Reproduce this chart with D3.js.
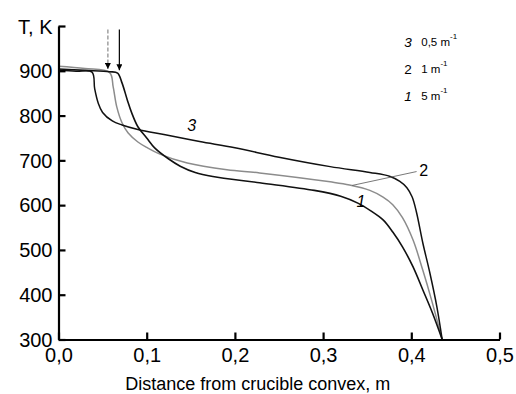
<!DOCTYPE html>
<html>
<head>
<meta charset="utf-8">
<script src="https://cdn.jsdelivr.net/npm/d3@7"></script>
<style>
  body { margin: 0; background: #fff; }
  svg { font-family: "Liberation Sans", Arial, sans-serif; }
</style>
</head>
<body>
<div id="chart"></div>
<script>
// distance from crucible convex, m / temperature, K
var curve1 = [[0,904],[0.03,901],[0.058,898],[0.067,895],[0.072,873],[0.078,835],[0.083,806],[0.090,775],[0.100,750],[0.109,728],[0.125,703],[0.138,687],[0.155,673],[0.175,664],[0.228,650],[0.290,633],[0.320,620],[0.340,604],[0.355,586],[0.368,567],[0.379,540],[0.390,507],[0.402,462],[0.413,411],[0.424,359],[0.435,300]];
var curve2 = [[0,910],[0.03,905],[0.058,896],[0.062,864],[0.066,820],[0.072,784],[0.079,761],[0.090,741],[0.100,729],[0.115,714],[0.146,694],[0.191,679],[0.228,672],[0.308,652],[0.330,645],[0.353,633],[0.368,618],[0.379,601],[0.390,572],[0.402,522],[0.413,455],[0.423,388],[0.435,300]];
var curve3 = [[0,902],[0.02,899],[0.038,897],[0.041,860],[0.045,828],[0.050,807],[0.061,788],[0.072,779],[0.090,769],[0.121,757],[0.160,742],[0.200,728],[0.250,707],[0.308,686],[0.353,673],[0.376,664],[0.387,653],[0.395,639],[0.401,618],[0.406,583],[0.413,516],[0.421,449],[0.429,373],[0.435,300]];

var xTicks = [0, 0.1, 0.2, 0.3, 0.4, 0.5];
var yTicks = [300, 400, 500, 600, 700, 800, 900, 1000];
var arrowsX = [0.056, 0.069];   // dashed, solid
var legendNames = ["3", "2", "1"];
var legendValues = ["0,5 m", "1 m", "5 m"];

var width = 516, height = 394;
var margin = {top: 26, right: 16.5, bottom: 54.5, left: 58.5};
var w = width - margin.left - margin.right,
    h = height - margin.top - margin.bottom;

var svg = d3.select("#chart").append("svg")
  .attr("width", width).attr("height", height);
var g = svg.append("g")
  .attr("transform", "translate(" + margin.left + "," + margin.top + ")");

var x = d3.scaleLinear().domain([0, 0.5]).range([0, w]);
var y = d3.scaleLinear().domain([300, 1000]).range([h, 0]);

var comma = function(d) { return d3.format(".1f")(d).replace(".", ","); };

var line = d3.line()
  .curve(d3.curveCatmullRom.alpha(0.5))
  .x(function(d) { return x(d[0]); })
  .y(function(d) { return y(d[1]); });

// curves
g.append("path").datum(curve2).attr("d", line)
  .attr("fill", "none").attr("stroke", "#8c8c8c").attr("stroke-width", 1.5);
g.append("path").datum(curve3).attr("d", line)
  .attr("fill", "none").attr("stroke", "#111").attr("stroke-width", 1.5);
g.append("path").datum(curve1).attr("d", line)
  .attr("fill", "none").attr("stroke", "#111").attr("stroke-width", 1.6);

// axes
var xAxis = g.append("g")
  .attr("transform", "translate(0," + h + ")")
  .call(d3.axisBottom(x).tickValues(xTicks).tickFormat(comma)
    .tickSizeInner(-7).tickSizeOuter(0).tickPadding(8));
var yAxis = g.append("g")
  .call(d3.axisLeft(y).tickValues(yTicks)
    .tickFormat(function(d) { return d === 1000 ? "" : d; })
    .tickSizeInner(-7).tickSizeOuter(0).tickPadding(6));

[xAxis, yAxis].forEach(function(a) {
  a.select(".domain").attr("stroke", "#000").attr("stroke-width", 2.2);
  a.selectAll(".tick line").attr("stroke", "#000").attr("stroke-width", 2.2);
  a.selectAll(".tick text").attr("fill", "#000")
    .style("font-size", "20px").style("font-family", "Liberation Sans, Arial, sans-serif");
});
yAxis.selectAll(".tick text").attr("dy", "0.34em");

g.append("text")
  .attr("x", -6).attr("y", y(1000) + 8)
  .attr("text-anchor", "end")
  .style("font-size", "20px")
  .text("T, K");

g.append("text")
  .attr("x", x(0.226)).attr("y", h + 50)
  .attr("text-anchor", "middle")
  .style("font-size", "18px")
  .text("Distance from crucible convex, m");

// arrows
var defs = svg.append("defs");
defs.append("marker").attr("id", "head")
  .attr("viewBox", "0 0 10 10").attr("refX", 10).attr("refY", 5)
  .attr("markerWidth", 8).attr("markerHeight", 6).attr("markerUnits", "userSpaceOnUse")
  .attr("orient", "auto")
  .append("path").attr("d", "M0,0L10,5L0,10z").attr("fill", "#000");

g.selectAll(".arrow").data(arrowsX).enter().append("line")
  .attr("x1", function(d) { return x(d); })
  .attr("x2", function(d) { return x(d); })
  .attr("y1", y(992))
  .attr("y2", function(d, i) { return i === 0 ? y(904) : y(901); })
  .attr("stroke", function(d, i) { return i === 0 ? "#888" : "#000"; })
  .attr("stroke-width", 1.2)
  .attr("stroke-dasharray", function(d, i) { return i === 0 ? "4,2" : null; })
  .attr("marker-end", "url(#head)");

// curve labels
g.append("text").attr("x", x(0.146)).attr("y", y(765))
  .style("font-size", "16px").style("font-style", "italic").text("3");
g.append("text").attr("x", x(0.409)).attr("y", y(664))
  .style("font-size", "16px").text("2");
g.append("text").attr("x", x(0.338)).attr("y", y(596))
  .style("font-size", "16px").style("font-style", "italic").text("1");
g.append("line")
  .attr("x1", x(0.333)).attr("y1", y(644))
  .attr("x2", x(0.406)).attr("y2", y(675))
  .attr("stroke", "#555").attr("stroke-width", 0.8);

// legend
var leg = g.append("g").attr("transform", "translate(" + x(0.392) + ",0)");
legendNames.forEach(function(d, i) {
  var yy = y(954) + i * 27;
  leg.append("text").attr("x", 0).attr("y", yy)
    .style("font-size", "13.5px")
    .style("font-style", d === "2" ? "normal" : "italic")
    .text(d);
  var t = leg.append("text").attr("x", 17).attr("y", yy - 1).style("font-size", "11.5px");
  t.append("tspan").text(legendValues[i]);
  t.append("tspan").attr("dy", -7).style("font-size", "8px").text("-1");
});
</script>
</body>
</html>
